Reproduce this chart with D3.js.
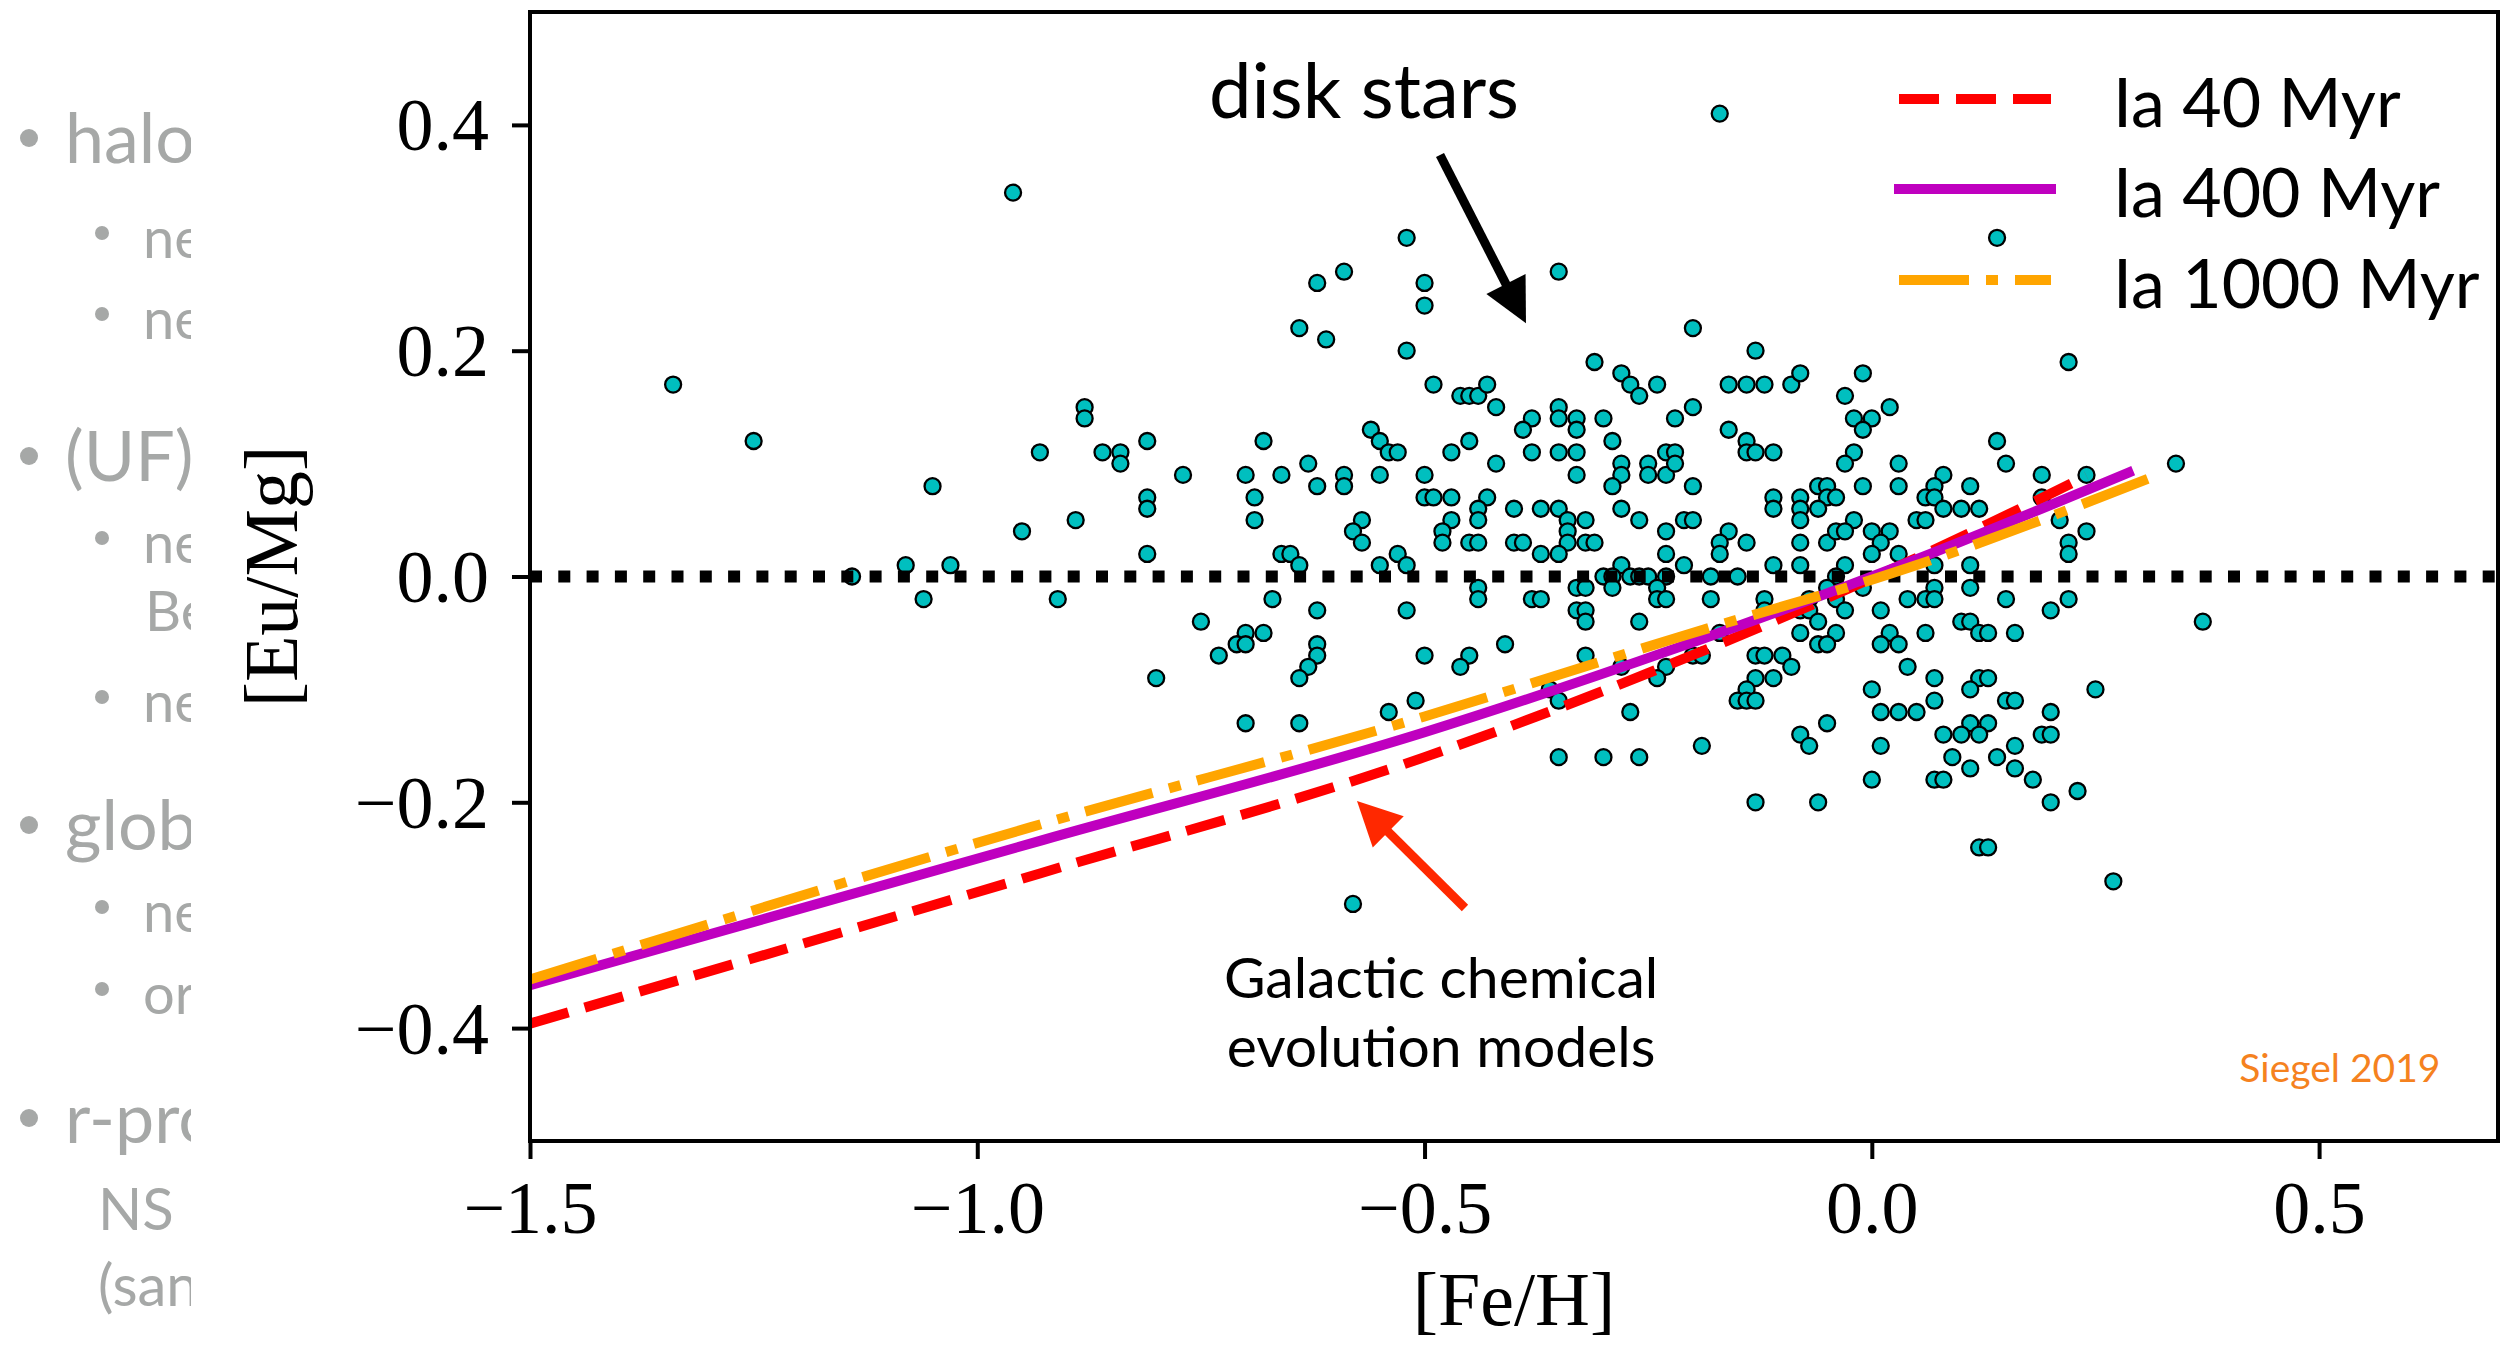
<!DOCTYPE html>
<html><head><meta charset="utf-8">
<script src="https://cdn.jsdelivr.net/npm/d3@7"></script>
<style>body{margin:0;background:#fff;} svg{display:block;}</style>
</head><body>
<script>
// ---------------- DATA ----------------
// disk stars: [Fe/H], [Eu/Mg]
const diskStars = [
[-0.96,0.34],[-1.34,0.17],[-1.25,0.12],[-1.05,0.08],[-0.93,0.11],[-0.88,0.15],[-0.88,0.14],[-0.86,0.11],[-0.84,0.11],[-0.84,0.10],[-0.81,0.12],[-0.81,0.07],[-0.81,0.06],
[-0.52,0.30],[-0.59,0.27],[-0.62,0.26],[-0.50,0.26],[-0.50,0.24],[-0.64,0.22],[-0.61,0.21],[-0.52,0.20],[-0.35,0.27],[-0.31,0.19],[-0.28,0.18],[-0.27,0.17],[-0.26,0.16],[-0.24,0.17],[-0.49,0.17],[-0.46,0.16],[-0.45,0.16],[-0.44,0.16],[-0.43,0.17],[-0.42,0.15],[-0.38,0.14],[-0.39,0.13],[-0.35,0.15],[-0.35,0.14],[-0.33,0.14],[-0.33,0.13],[-0.30,0.14],[-0.29,0.12],[-0.22,0.14],[-0.38,0.11],[-0.35,0.11],[-0.33,0.11],[-0.33,0.09],[-0.42,0.10],[-0.45,0.12],[-0.47,0.11],[-0.56,0.13],[-0.55,0.12],[-0.54,0.11],[-0.53,0.11],[-0.68,0.12],[-0.63,0.10],[-0.77,0.09],[-0.70,0.09],[-0.66,0.09],[-0.59,0.09],[-0.59,0.08],[-0.62,0.08],[-0.55,0.09],[-0.50,0.09],[-0.69,0.07],[-0.50,0.07],[-0.49,0.07],[-0.47,0.07],[-0.43,0.07],[-0.44,0.06],[-0.40,0.06],[-0.37,0.06],[-0.35,0.06],[-0.28,0.10],[-0.28,0.09],[-0.29,0.08],[-0.25,0.10],[-0.25,0.09],[-0.23,0.09],[-0.23,0.11],[-0.22,0.11],[-0.22,0.10],[-0.28,0.06],
[-0.17,0.41],[0.14,0.30],[-0.20,0.22],[-0.13,0.20],[-0.16,0.17],[-0.14,0.17],[-0.12,0.17],[-0.09,0.17],[-0.08,0.18],[-0.01,0.18],[-0.03,0.16],[0.02,0.15],[-0.20,0.15],[-0.02,0.14],[0.00,0.14],[-0.01,0.13],[-0.16,0.13],[-0.14,0.12],[-0.14,0.11],[-0.13,0.11],[-0.11,0.11],[-0.02,0.11],[-0.03,0.10],[0.03,0.10],[0.14,0.12],[0.15,0.10],[0.22,0.19],[0.34,0.10],[0.19,0.09],[0.24,0.09],[0.19,0.07],[0.08,0.09],[0.07,0.08],[0.06,0.07],[0.07,0.07],[0.11,0.08],[0.08,0.06],[0.10,0.06],[0.12,0.06],[0.03,0.08],[-0.01,0.08],[-0.06,0.08],[-0.05,0.08],[-0.05,0.07],[-0.04,0.07],[-0.08,0.07],[-0.08,0.06],[-0.06,0.06],[-0.11,0.07],[-0.11,0.06],[-0.20,0.08],
[-0.89,0.05],[-0.95,0.04],[-0.81,0.02],[-1.08,0.01],[-1.03,0.01],[-1.14,0.00],[-1.06,-0.02],[-0.91,-0.02],[-0.80,-0.09],
[-0.69,0.05],[-0.57,0.05],[-0.58,0.04],[-0.57,0.03],[-0.47,0.05],[-0.48,0.04],[-0.48,0.03],[-0.44,0.05],[-0.45,0.03],[-0.44,0.03],[-0.34,0.05],[-0.34,0.04],[-0.34,0.03],[-0.32,0.05],[-0.32,0.03],[-0.31,0.03],[-0.40,0.03],[-0.39,0.03],[-0.37,0.02],[-0.35,0.02],[-0.26,0.05],[-0.23,0.04],[-0.23,0.02],[-0.28,0.01],[-0.30,0.00],[-0.29,0.00],[-0.27,0.00],[-0.26,0.00],[-0.25,0.00],[-0.23,0.00],[-0.29,-0.01],[-0.24,-0.01],[-0.33,-0.01],[-0.32,-0.01],[-0.24,-0.02],[-0.23,-0.02],[-0.33,-0.03],[-0.32,-0.03],[-0.32,-0.04],[-0.26,-0.04],[-0.38,-0.02],[-0.37,-0.02],[-0.44,-0.01],[-0.44,-0.02],[-0.66,0.02],[-0.65,0.02],[-0.64,0.01],[-0.55,0.01],[-0.53,0.02],[-0.52,0.01],[-0.67,-0.02],[-0.62,-0.03],[-0.52,-0.03],[-0.75,-0.04],[-0.70,-0.05],[-0.68,-0.05],[-0.71,-0.06],[-0.70,-0.06],[-0.73,-0.07],[-0.62,-0.06],[-0.62,-0.07],[-0.63,-0.08],[-0.64,-0.09],[-0.50,-0.07],[-0.45,-0.07],[-0.46,-0.08],[-0.41,-0.06],[-0.32,-0.07],[-0.51,-0.11],[-0.54,-0.12],[-0.70,-0.13],[-0.64,-0.13],[-0.36,-0.10],[-0.35,-0.11],[-0.27,-0.12],[-0.35,-0.16],[-0.30,-0.16],[-0.26,-0.16],[-0.58,-0.29],[-0.28,-0.08],[-0.23,-0.08],[-0.24,-0.09],
[-0.21,0.05],[-0.20,0.05],[-0.08,0.05],[-0.02,0.05],[0.05,0.05],[0.06,0.05],[0.21,0.05],[-0.16,0.04],[-0.17,0.03],[-0.17,0.02],[-0.14,0.03],[-0.08,0.03],[-0.05,0.03],[-0.04,0.04],[-0.03,0.04],[0.00,0.04],[0.02,0.04],[0.01,0.03],[0.00,0.02],[0.03,0.02],[0.22,0.03],[0.22,0.02],[0.24,0.04],[-0.21,0.01],[-0.11,0.01],[-0.08,0.01],[-0.03,0.01],[0.07,0.01],[0.11,0.01],[-0.18,0.00],[-0.15,0.00],[-0.04,0.00],[-0.05,-0.01],[-0.01,-0.01],[0.07,-0.01],[0.11,-0.01],[-0.18,-0.02],[-0.12,-0.02],[-0.07,-0.02],[-0.04,-0.02],[0.04,-0.02],[0.06,-0.02],[0.07,-0.02],[0.15,-0.02],[0.22,-0.02],[-0.12,-0.03],[-0.08,-0.03],[-0.07,-0.03],[-0.03,-0.03],[0.01,-0.03],[0.20,-0.03],[-0.06,-0.04],[0.10,-0.04],[0.11,-0.04],[0.37,-0.04],[-0.17,-0.05],[-0.08,-0.05],[-0.04,-0.05],[0.02,-0.05],[0.06,-0.05],[0.12,-0.05],[0.13,-0.05],[0.16,-0.05],[-0.06,-0.06],[-0.05,-0.06],[0.01,-0.06],[0.03,-0.06],[-0.20,-0.07],[-0.19,-0.07],[-0.13,-0.07],[-0.12,-0.07],[-0.10,-0.07],[-0.09,-0.08],[0.04,-0.08],[-0.13,-0.09],[-0.11,-0.09],[0.07,-0.09],[0.12,-0.09],[0.13,-0.09],[-0.14,-0.10],[0.00,-0.10],[0.11,-0.10],[0.25,-0.10],[-0.15,-0.11],[-0.14,-0.11],[-0.13,-0.11],[0.07,-0.11],[0.15,-0.11],[0.16,-0.11],[0.01,-0.12],[0.03,-0.12],[0.05,-0.12],[0.20,-0.12],[-0.05,-0.13],[0.11,-0.13],[0.13,-0.13],[-0.08,-0.14],[0.08,-0.14],[0.10,-0.14],[0.12,-0.14],[0.19,-0.14],[0.20,-0.14],[-0.19,-0.15],[-0.07,-0.15],[0.01,-0.15],[0.16,-0.15],[0.09,-0.16],[0.14,-0.16],[0.11,-0.17],[0.16,-0.17],[0.00,-0.18],[0.07,-0.18],[0.08,-0.18],[0.18,-0.18],[0.23,-0.19],[-0.13,-0.20],[-0.06,-0.20],[0.20,-0.20],[0.12,-0.24],[0.13,-0.24],[0.27,-0.27]
];
// GCE model tracks: [Fe/H], [Eu/Mg]
const model40   = [[-1.5,-0.396],[-0.93,-0.263],[-0.5,-0.160],[-0.217,-0.075],[0.046,0.015],[0.24,0.089]];
const model400  = [[-1.5,-0.362],[-0.927,-0.2335],[-0.5,-0.138],[-0.217,-0.063],[0.046,0.014],[0.287,0.092]];
const model1000 = [[-1.5,-0.357],[-0.94,-0.222],[-0.5,-0.124],[-0.217,-0.054],[0.046,0.009],[0.31,0.087]];
const modelLabels = ["Ia 40 Myr","Ia 400 Myr","Ia 1000 Myr"];
const xTicks = [-1.5,-1.0,-0.5,0.0,0.5];
const yTicks = [-0.4,-0.2,0.0,0.2,0.4];
const xDomain = [-1.5,0.7];
const yDomain = [-0.5,0.5];
// annotations in data coordinates
const diskLabel = {text:"disk stars", x:-0.741, y:0.406};
const diskArrow = {from:[-0.4827,0.3733], to:[-0.3866,0.2243]};
const gceLabel = {lines:["Galactic chemical","evolution models"], x:-0.4815, y:[-0.3733,-0.4344]};
const gceArrow = {from:[-0.4548,-0.2936], to:[-0.5755,-0.1988]};
const creditLabel = {text:"Siegel 2019", x:0.4108, y:-0.4477};
// cropped slide text at left
const slideLines = [
 {t:"halo",lvl:0,y:163},{t:"ne",lvl:1,y:258},{t:"ne",lvl:1,y:339},
 {t:"(UF)",lvl:0,y:481},{t:"ne",lvl:1,y:563},{t:"Be",lvl:2,y:631},{t:"ne",lvl:1,y:722},
 {t:"glob",lvl:0,y:850},{t:"ne",lvl:1,y:932},{t:"or",lvl:1,y:1014},
 {t:"r-pro",lvl:0,y:1143},{t:"NS",lvl:3,y:1230},{t:"(san",lvl:3,y:1306}
];

// ---------------- DRAW ----------------
const W=2520,H=1347;
const L=530,R=2498,T=12,B=1141;
const x = d3.scaleLinear().domain(xDomain).range([L,R]);
const y = d3.scaleLinear().domain(yDomain).range([B,T]);
const serif = "'Liberation Serif','Times New Roman',serif";
const sans = "Lato,'Open Sans',sans-serif";

const svg = d3.select("body").append("svg").attr("width",W).attr("height",H);
svg.append("rect").attr("width",W).attr("height",H).attr("fill","#fff");

// slide text (clipped)
const defs = svg.append("defs");
defs.append("clipPath").attr("id","slideClip").append("rect").attr("x",0).attr("y",0).attr("width",191).attr("height",H);
defs.append("clipPath").attr("id","plotClip").append("rect").attr("x",L).attr("y",T).attr("width",R-L).attr("height",B-T);
const slide = svg.append("g").attr("clip-path","url(#slideClip)").attr("fill","#a6a8a7").attr("font-family",sans);
const lvlCfg = [
  {bx:29,br:9,tx:65,fs:70,bullet:true},
  {bx:102,br:7,tx:143,fs:56,bullet:true},
  {bx:0,br:0,tx:145,fs:56,bullet:false},
  {bx:0,br:0,tx:98,fs:58,bullet:false}
];
slideLines.forEach(d=>{
  const c = lvlCfg[d.lvl];
  if(c.bullet) slide.append("circle").attr("cx",c.bx).attr("cy",d.y-25).attr("r",c.br);
  slide.append("text").attr("x",c.tx).attr("y",d.y).attr("font-size",c.fs).text(d.t);
});

// scatter
const plot = svg.append("g").attr("clip-path","url(#plotClip)");
plot.append("g").selectAll("circle").data(diskStars).join("circle")
  .attr("cx",d=>x(d[0])).attr("cy",d=>y(d[1])).attr("r",8)
  .attr("fill","#00bfbf").attr("stroke","#000").attr("stroke-width",2.3);

// zero line
plot.append("line").attr("x1",x(xDomain[0])).attr("x2",x(xDomain[1])).attr("y1",y(0)).attr("y2",y(0))
  .attr("stroke","#000").attr("stroke-width",12).attr("stroke-dasharray","12,16.3");

// model lines
const line = d3.line().x(d=>x(d[0])).y(d=>y(d[1])).curve(d3.curveMonotoneX);
const styles = [
  {data:model40,color:"#ff0000",dash:"40,17",cap:"butt"},
  {data:model400,color:"#bf00bf",dash:null,cap:"square"},
  {data:model1000,color:"#ffa500",dash:"70,17,12,17",cap:"butt"}
];
styles.forEach(s=>{
  plot.append("path").attr("d",line(s.data)).attr("fill","none").attr("stroke",s.color)
    .attr("stroke-width",10).attr("stroke-linecap",s.cap)
    .attr("stroke-dasharray",s.dash);
});

// axes
const fmt = d3.format(".1f");
const xAxis = svg.append("g").attr("transform",`translate(0,${B})`)
  .call(d3.axisBottom(x).tickValues(xTicks).tickSize(18).tickFormat(fmt));
const yAxis = svg.append("g").attr("transform",`translate(${L},0)`)
  .call(d3.axisLeft(y).tickValues(yTicks).tickSize(18).tickFormat(fmt));
[xAxis,yAxis].forEach(a=>{
  a.select(".domain").remove();
  a.selectAll(".tick line").attr("stroke","#000").attr("stroke-width",4);
  a.selectAll(".tick text").attr("fill","#000").attr("font-family",serif).attr("font-size",74);
});
xAxis.selectAll(".tick text").attr("y",92).attr("dy",0);
yAxis.selectAll(".tick text").attr("x",-41).attr("dy",25).attr("text-anchor","end");

// frame
svg.append("rect").attr("x",L).attr("y",T).attr("width",R-L).attr("height",B-T)
  .attr("fill","none").attr("stroke","#000").attr("stroke-width",4);

// axis labels
svg.append("text").attr("x",(L+R)/2).attr("y",1325).attr("text-anchor","middle")
  .attr("font-family",serif).attr("font-size",76).text("[Fe/H]");
svg.append("text").attr("transform",`translate(297,${(T+B)/2}) rotate(-90)`).attr("text-anchor","middle")
  .attr("font-family",serif).attr("font-size",76).text("[Eu/Mg]");

// legend
const legY = [99,189,280];
const lg = svg.append("g");
styles.forEach((s,i)=>{
  lg.append("line").attr("x1",1899).attr("x2",2051).attr("y1",legY[i]).attr("y2",legY[i])
    .attr("stroke",s.color).attr("stroke-width",10).attr("stroke-linecap",s.cap).attr("stroke-dasharray",s.dash);
  lg.append("text").attr("x",2113).attr("y",legY[i]+28).attr("font-family",sans).attr("font-size",68)
    .attr("fill","#000").text(modelLabels[i]);
});

// annotations
function arrow(a,color){
  const x0=x(a.from[0]),y0=y(a.from[1]),x1=x(a.to[0]),y1=y(a.to[1]);
  const dx=x1-x0,dy=y1-y0,len=Math.hypot(dx,dy),ux=dx/len,uy=dy/len;
  const hl=44,hw=22;
  const bx=x1-ux*hl,by=y1-uy*hl;
  svg.append("line").attr("x1",x0).attr("y1",y0).attr("x2",bx+ux*2).attr("y2",by+uy*2)
    .attr("stroke",color).attr("stroke-width",9);
  svg.append("path").attr("d",`M${x1},${y1}L${bx-uy*hw},${by+ux*hw}L${bx+uy*hw},${by-ux*hw}Z`).attr("fill",color);
}
svg.append("text").attr("x",x(diskLabel.x)).attr("y",y(diskLabel.y)).attr("font-family",sans)
  .attr("font-size",76).attr("fill","#000").text(diskLabel.text);
arrow(diskArrow,"#000");
gceLabel.lines.forEach((t,i)=>{
  svg.append("text").attr("x",x(gceLabel.x)).attr("y",y(gceLabel.y[i])).attr("text-anchor","middle")
    .attr("font-family",sans).attr("font-size",57).attr("fill","#000").text(t);
});
arrow(gceArrow,"#ff2800");
svg.append("text").attr("x",x(creditLabel.x)).attr("y",y(creditLabel.y)).attr("font-family",sans)
  .attr("font-size",39).attr("fill","#f5821f").text(creditLabel.text);
</script>
</body></html>
